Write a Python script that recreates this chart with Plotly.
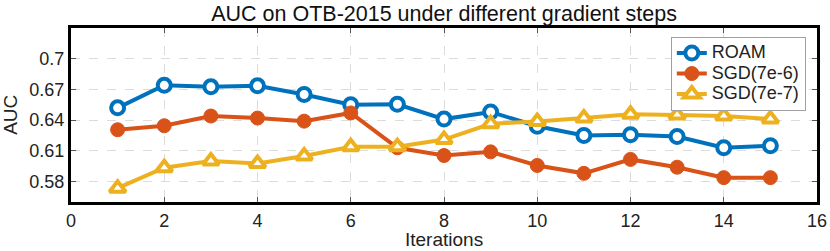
import plotly.graph_objects as go

iterations = list(range(1, 16))
roam = [0.652, 0.674, 0.6725, 0.6735, 0.665, 0.655, 0.6555, 0.641, 0.648, 0.634, 0.625, 0.6257, 0.624, 0.613, 0.615]
sgd_7e6 = [0.6306, 0.6345, 0.644, 0.642, 0.639, 0.647, 0.613, 0.6054, 0.609, 0.5957, 0.588, 0.6016, 0.594, 0.5838, 0.5838]
sgd_7e7 = [0.5735, 0.5935, 0.600, 0.5977, 0.605, 0.614, 0.614, 0.621, 0.6364, 0.6386, 0.642, 0.6458, 0.645, 0.644, 0.641]
names = ["ROAM", "SGD(7e-6)", "SGD(7e-7)"]
colors = ["#0072BD", "#D95319", "#EDB120"]
x_ticks = [0, 2, 4, 6, 8, 10, 12, 14, 16]
y_ticks = [0.58, 0.61, 0.64, 0.67, 0.7]
y_ticklabels = ["0.58", "0.61", "0.64", "0.67", "0.7"]

FONT = "Liberation Sans, Arial, Helvetica, sans-serif"


def legend_label(s):
    return '<span style="font-size:18px">' + s + '</span>'


fig = go.Figure()
fig.add_trace(go.Scatter(
    x=iterations, y=roam, name=legend_label(names[0]), mode="lines+markers",
    line=dict(color=colors[0], width=4),
    marker=dict(symbol="circle", size=13, color="white", line=dict(color=colors[0], width=4)),
))
fig.add_trace(go.Scatter(
    x=iterations, y=sgd_7e6, name=legend_label(names[1]), mode="lines+markers",
    line=dict(color=colors[1], width=4),
    marker=dict(symbol="circle", size=14, color=colors[1], line=dict(color=colors[1], width=1)),
))
fig.add_trace(go.Scatter(
    x=iterations, y=sgd_7e7, name=legend_label(names[2]), mode="lines+markers",
    line=dict(color=colors[2], width=4),
    marker=dict(symbol="triangle-up", size=14, color="white", line=dict(color=colors[2], width=4)),
))

axis_common = dict(
    showline=True, linecolor="black", linewidth=3, mirror="ticks",
    ticks="inside", ticklen=5, tickcolor="#555", tickwidth=1,
    showgrid=True, gridcolor="#DCDCDC", griddash="dash", gridwidth=1,
    zeroline=False, automargin=False,
    tickfont=dict(family=FONT, size=18, color="#222"),
)

fig.update_layout(
    width=830, height=251,
    margin=dict(l=71, r=13, t=28, b=49),
    paper_bgcolor="white", plot_bgcolor="white",
    font=dict(family=FONT, color="#222"),
    title=dict(text="AUC on OTB-2015 under different gradient steps",
               x=0.535, xanchor="center", y=0.945, yanchor="middle",
               font=dict(family=FONT, size=21.5, color="#111"), automargin=False),
    xaxis=dict(range=[0, 16], tickvals=x_ticks, ticktext=[str(v) for v in x_ticks], **axis_common),
    yaxis=dict(range=[0.56, 0.73], tickvals=y_ticks, ticktext=y_ticklabels, **axis_common),
    legend=dict(x=0.985, xanchor="right", y=0.95, yanchor="top",
                bgcolor="white", bordercolor="#A0A0A0", borderwidth=1,
                font=dict(family=FONT, size=13.5, color="#222"),
                tracegroupgap=0, itemwidth=30),
    showlegend=True,
    annotations=[
        dict(text="Iterations", xref="paper", yref="paper", x=0.5, y=-0.218,
             xanchor="center", yanchor="middle", showarrow=False,
             font=dict(family=FONT, size=19, color="#222")),
        dict(text="AUC", xref="paper", yref="paper", x=-0.082, y=0.5, textangle=-90,
             xanchor="center", yanchor="middle", showarrow=False,
             font=dict(family=FONT, size=19, color="#222")),
    ],
)

fig.write_html("out.html", config={"displayModeBar": False},
               post_script="document.body.style.margin='0px'; document.body.style.overflow='hidden';")
